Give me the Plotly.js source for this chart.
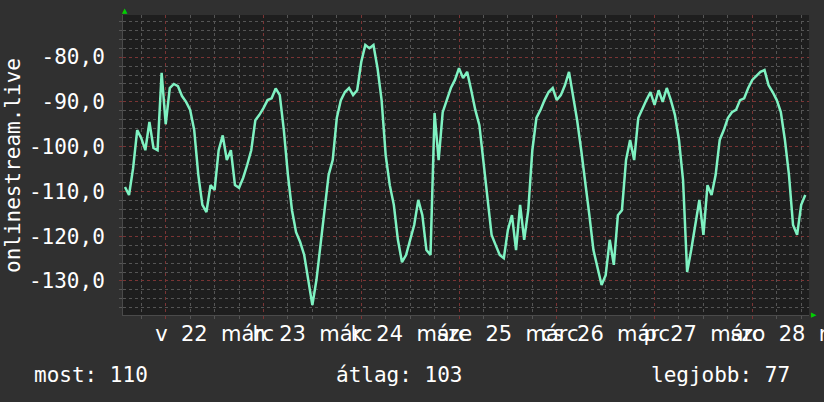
<!DOCTYPE html>
<html><head><meta charset="utf-8">
<script src="https://cdn.plot.ly/plotly-3.0.1.min.js"></script>
<style>html,body{margin:0;padding:0;background:#303030;overflow:hidden}#chart{width:824px;height:402px}</style>
</head><body><div id="chart"></div>
<script>
// ---- data ----
const seriesName = 'onlinestream.live';
const startUTC = [2020, 2, 21, 14];          // first sample: 2020-03-21 14:00
const stepHours = 1;
const values = [
 -109.0,-110.8,-104.8,-96.3,-98.1,-100.8,-94.5,-100.3,-100.8,-83.5,
 -95.0,-86.9,-86.0,-86.5,-88.7,-90.0,-91.8,-96.3,-106.3,-113.0,
 -114.6,-108.6,-109.7,-100.8,-97.5,-103.0,-100.8,-108.6,-109.2,-107.0,
 -104.1,-100.8,-94.1,-92.9,-91.4,-89.6,-89.2,-87.0,-88.5,-96.3,
 -106.3,-114.2,-119.1,-121.3,-124.2,-129.8,-135.4,-129.8,-122.0,-113.0,
 -106.3,-103.0,-93.6,-89.6,-87.8,-86.9,-88.5,-87.4,-81.1,-77.3,
 -78.0,-77.3,-82.5,-89.6,-101.9,-108.6,-113.0,-120.8,-125.8,-124.2,
 -120.8,-117.5,-111.9,-115.3,-123.1,-124.2,-92.5,-103.0,-92.3,-89.6,
 -86.9,-85.1,-82.5,-84.7,-83.3,-87.4,-91.8,-95.2,-103.0,-111.9,
 -119.7,-122.0,-124.2,-124.9,-118.6,-115.3,-123.1,-113.0,-120.8,-114.2,
 -100.8,-93.6,-91.8,-89.6,-87.8,-86.9,-89.6,-88.5,-86.3,-83.3,
 -88.5,-94.1,-100.8,-107.5,-115.3,-123.1,-127.1,-130.9,-128.7,-120.8,
 -126.4,-115.3,-114.2,-103.0,-98.5,-103.0,-93.6,-91.4,-89.6,-87.8,
 -90.7,-87.4,-90.0,-86.9,-89.6,-92.9,-98.5,-107.5,-128.0,-123.1,
 -117.5,-111.9,-119.7,-108.6,-110.8,-106.3,-98.5,-96.3,-93.6,-92.3,
 -91.8,-89.6,-89.2,-86.9,-85.1,-84.2,-83.3,-82.9,-86.3,-87.8,
 -89.6,-92.3,-98.5,-106.3,-117.5,-119.7,-113.0,-110.8
];
const xRange = ['2020-03-21 13:31', '2020-03-28 13:55'];
const dayDates = ['2020-03-22','2020-03-23','2020-03-24','2020-03-25','2020-03-26','2020-03-27','2020-03-28'];
const dayNames = ['v','h','k','sze','cs','p','szo'];
const dayNumbers = ['22','23','24','25','26','27','28'];
const monthName = 'márc';
const yTickValues = [-130,-120,-110,-100,-90,-80];
const yTickLabels = ['-130,0','-120,0','-110,0','-100,0','-90,0','-80,0'];
const yRange = [-137.6, -70.6];
const statLabels = ['most','átlag','legjobb'];
const statValues = ['110','103','77'];

// ---- build ----
const t0 = Date.UTC(startUTC[0], startUTC[1], startUTC[2], startUTC[3]);
const times = values.map((_, i) => new Date(t0 + i * stepHours * 3600000).toISOString().slice(0,19).replace('T',' '));
const NBSP2 = '\u00a0\u00a0';
const tickText = dayNames.map((d, i) => d + NBSP2 + dayNumbers[i] + NBSP2 + monthName);
const tickNoon = dayDates.map(d => d + ' 12:00');

const MONO = 'DejaVu Sans Mono';
const W = 824, H = 402, L = 123, R = 15, T = 15, B = 87;
const pw = W - L - R, ph = H - T - B;
const px = x => (x - L) / pw;
const py = y => (H - B - y) / ph;

const traces = [
  {x: times, y: values, xaxis: 'x2', yaxis: 'y', type: 'scatter', mode: 'lines', name: seriesName,
   line: {color: '#7ff2c2', width: 2.5}, hoverinfo: 'skip'},
  {x: times, y: values, xaxis: 'x', yaxis: 'y', type: 'scatter', mode: 'lines',
   line: {color: 'rgba(0,0,0,0)', width: 0}, hoverinfo: 'skip', showlegend: false}
];

const statX = [32, 334, 649];
const annotations = statLabels.map((s, i) => ({
  text: s + ': ' + statValues[i], xref: 'paper', yref: 'paper', x: px(statX[i]), y: py(375),
  xanchor: 'left', yanchor: 'middle', showarrow: false, font: {family: MONO, size: 21, color: '#ffffff'}
}));
annotations.push({text: seriesName, textangle: -90, xref: 'paper', yref: 'paper', x: px(13), y: py(166),
  xanchor: 'center', yanchor: 'middle', showarrow: false, font: {family: MONO, size: 21, color: '#ffffff'}});
annotations.push({text: '▲', xref: 'paper', yref: 'paper', x: px(125), y: py(11), xanchor: 'center', yanchor: 'middle',
  showarrow: false, font: {family: 'DejaVu Sans', size: 7, color: '#00d000'}});
annotations.push({text: '▶', xref: 'paper', yref: 'paper', x: px(814), y: py(315), xanchor: 'center', yanchor: 'middle',
  showarrow: false, font: {family: 'DejaVu Sans', size: 7, color: '#00d000'}});

const gridRed = '#7a3434';
const gridGrey = '#555555';
const layout = {
  width: W, height: H, margin: {l: L, r: R, t: T, b: B},
  paper_bgcolor: '#303030', plot_bgcolor: '#1e1e1e', showlegend: false,
  xaxis: {type: 'date', range: xRange, tick0: dayDates[0], dtick: 86400000, showticklabels: false,
    showgrid: true, gridcolor: gridRed, griddash: 'dot', gridwidth: 1, zeroline: false,
    ticks: 'outside', ticklen: 3, tickcolor: gridRed,
    minor: {dtick: 6 * 3600000, showgrid: true, gridcolor: gridGrey, griddash: 'dot', gridwidth: 1,
            ticks: 'outside', ticklen: 3, tickcolor: gridGrey},
    showline: true, linecolor: '#4a4a4a', linewidth: 1, fixedrange: true},
  xaxis2: {type: 'date', range: xRange, overlaying: 'x', anchor: 'y', side: 'bottom',
    tickmode: 'array', tickvals: tickNoon, ticktext: tickText, tickangle: 0, showgrid: false, zeroline: false,
    ticks: '', ticklabelstandoff: 4, ticklabeloverflow: 'allow',
    tickfont: {family: 'DejaVu Sans', size: 21, color: '#ffffff'}, fixedrange: true},
  yaxis: {range: yRange, tickmode: 'array', tickvals: yTickValues, ticktext: yTickLabels,
    showgrid: true, gridcolor: gridRed, griddash: 'dot', gridwidth: 1, zeroline: false,
    ticks: 'outside', ticklen: 3, tickcolor: gridRed, ticklabelstandoff: 10,
    minor: {dtick: 2, showgrid: true, gridcolor: gridGrey, griddash: 'dot', gridwidth: 1, ticks: 'outside', ticklen: 3, tickcolor: gridGrey},
    tickfont: {family: MONO, size: 21, color: '#ffffff'},
    showline: true, linecolor: '#4a4a4a', linewidth: 1, fixedrange: true},
  annotations: annotations
};
Plotly.newPlot('chart', traces, layout, {staticPlot: true, displayModeBar: false});
</script></body></html>
